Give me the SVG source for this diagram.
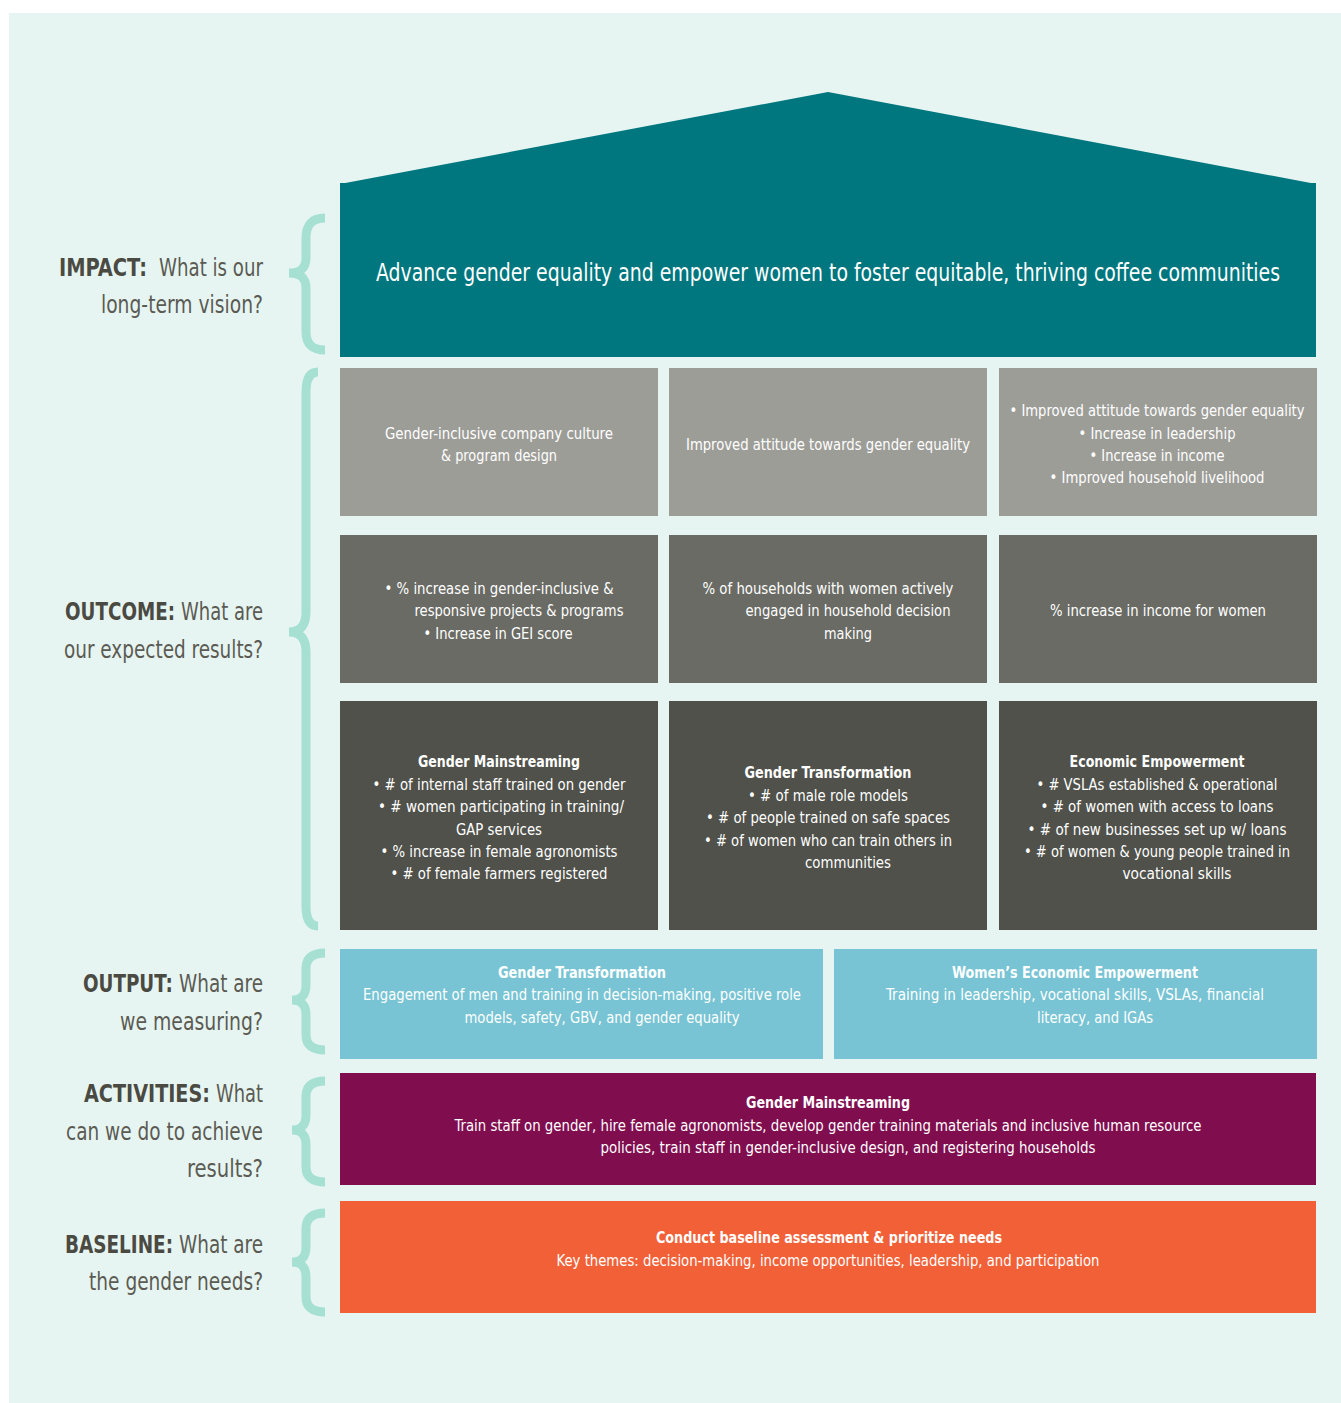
<svg xmlns="http://www.w3.org/2000/svg" width="1341" height="1403" viewBox="0 0 1341 1403">
<style>
.t{font-family:"DejaVu Sans Condensed","Liberation Sans",sans-serif;font-stretch:condensed;fill:#fff;font-size:16.5px;text-anchor:middle}
.b{font-weight:bold}
.lab{font-family:"DejaVu Sans Condensed","Liberation Sans",sans-serif;font-stretch:condensed;font-size:25px;fill:#5b5b53;text-anchor:end}
.k{font-family:"DejaVu Sans Condensed","Liberation Sans",sans-serif;font-stretch:condensed;font-size:25px;font-weight:bold;fill:#4a4a42;text-anchor:start}
.brace{fill:none;stroke:#a6e0d3;stroke-width:9}
</style>
<rect x="0" y="0" width="1341" height="1403" fill="#ffffff"/>
<rect x="9" y="13" width="1332" height="1390" fill="#e7f5f2"/>

<g id="braces">
<path class="brace" d="M325 218 Q306 218 306 238 L306 258 Q306 273 289 273 Q306 273 306 288 L306 332 Q306 350 325 350"/>
<path class="brace" d="M318 372 Q306 372 306 392 L306 612 Q306 632 289 632 Q306 632 306 652 L306 906 Q306 926 318 926"/>
<path class="brace" d="M325 953 Q306 953 306 968 L306 985 Q306 1000 292 1000 Q306 1000 306 1015 L306 1035 Q306 1050 325 1050"/>
<path class="brace" d="M325 1081 Q306 1081 306 1096 L306 1115 Q306 1130 292 1130 Q306 1130 306 1145 L306 1167 Q306 1182 325 1182"/>
<path class="brace" d="M325 1213 Q306 1213 306 1228 L306 1247 Q306 1262 292 1262 Q306 1262 306 1277 L306 1297 Q306 1312 325 1312"/>
</g>

<g id="labels" transform="translate(263 0) scale(0.84 1) translate(-263 0)">
<text class="k" x="20.1" y="276" textLength="104.8" lengthAdjust="spacingAndGlyphs">IMPACT:</text>
<text class="lab" x="263" y="276" textLength="123.8" lengthAdjust="spacingAndGlyphs">What is our</text>
<text class="lab" x="263" y="313" textLength="192.9" lengthAdjust="spacingAndGlyphs">long-term vision?</text>
<text class="k" x="27.3" y="620" textLength="131" lengthAdjust="spacingAndGlyphs">OUTCOME:</text>
<text class="lab" x="263" y="620" textLength="97.6" lengthAdjust="spacingAndGlyphs">What are</text>
<text class="lab" x="263" y="658" textLength="236.9" lengthAdjust="spacingAndGlyphs">our expected results?</text>
<text class="k" x="48.7" y="992" textLength="107.1" lengthAdjust="spacingAndGlyphs">OUTPUT:</text>
<text class="lab" x="263" y="992" textLength="100" lengthAdjust="spacingAndGlyphs">What are</text>
<text class="lab" x="263" y="1030" textLength="170.2" lengthAdjust="spacingAndGlyphs">we measuring?</text>
<text class="k" x="49.9" y="1102" textLength="150" lengthAdjust="spacingAndGlyphs">ACTIVITIES:</text>
<text class="lab" x="263" y="1102" textLength="56" lengthAdjust="spacingAndGlyphs">What</text>
<text class="lab" x="263" y="1140" textLength="234.5" lengthAdjust="spacingAndGlyphs">can we do to achieve</text>
<text class="lab" x="263" y="1177" textLength="90.5" lengthAdjust="spacingAndGlyphs">results?</text>
<text class="k" x="27.3" y="1253" textLength="128.6" lengthAdjust="spacingAndGlyphs">BASELINE:</text>
<text class="lab" x="263" y="1253" textLength="100" lengthAdjust="spacingAndGlyphs">What are</text>
<text class="lab" x="263" y="1290" textLength="207.1" lengthAdjust="spacingAndGlyphs">the gender needs?</text>
</g>

<g id="impact">
<polygon points="340,184 828,92 1316,184" fill="#00767e"/>
<rect x="340" y="183" width="976" height="174" fill="#00767e"/>
<text class="t" transform="translate(828 281) scale(0.87 1)" x="0" y="0" style="font-size:24px" textLength="1039" lengthAdjust="spacingAndGlyphs">Advance gender equality and empower women to foster equitable, thriving coffee communities</text>
</g>

<g id="outcome-r1c1">
<rect x="340" y="368" width="318" height="148" fill="#9d9d98"/>
<text class="t" x="499" y="439" textLength="228" lengthAdjust="spacingAndGlyphs">Gender-inclusive company culture</text>
<text class="t" x="499" y="461" textLength="116" lengthAdjust="spacingAndGlyphs">&amp; program design</text>
</g>
<g id="outcome-r1c2">
<rect x="669" y="368" width="318" height="148" fill="#9d9d98"/>
<text class="t" x="828" y="450" textLength="284" lengthAdjust="spacingAndGlyphs">Improved attitude towards gender equality</text>
</g>
<g id="outcome-r1c3">
<rect x="999" y="368" width="318" height="148" fill="#9d9d98"/>
<text class="t" x="1157" y="416" textLength="295" lengthAdjust="spacingAndGlyphs">• Improved attitude towards gender equality</text>
<text class="t" x="1157" y="439" textLength="157" lengthAdjust="spacingAndGlyphs">• Increase in leadership</text>
<text class="t" x="1157" y="461" textLength="135" lengthAdjust="spacingAndGlyphs">• Increase in income</text>
<text class="t" x="1157" y="483" textLength="215" lengthAdjust="spacingAndGlyphs">• Improved household livelihood</text>
</g>

<g id="outcome-r2c1">
<rect x="340" y="535" width="318" height="148" fill="#6a6b64"/>
<text class="t" x="499" y="594" textLength="229" lengthAdjust="spacingAndGlyphs">• % increase in gender-inclusive &amp;</text>
<text class="t" x="519" y="616" textLength="209" lengthAdjust="spacingAndGlyphs">responsive projects &amp; programs</text>
<text class="t" x="498" y="639" textLength="149" lengthAdjust="spacingAndGlyphs">• Increase in GEI score</text>
</g>
<g id="outcome-r2c2">
<rect x="669" y="535" width="318" height="148" fill="#6a6b64"/>
<text class="t" x="828" y="594" textLength="251" lengthAdjust="spacingAndGlyphs">% of households with women actively</text>
<text class="t" x="848" y="616" textLength="205" lengthAdjust="spacingAndGlyphs">engaged in household decision</text>
<text class="t" x="848" y="639" textLength="48" lengthAdjust="spacingAndGlyphs">making</text>
</g>
<g id="outcome-r2c3">
<rect x="999" y="535" width="318" height="148" fill="#6a6b64"/>
<text class="t" x="1158" y="616" textLength="216" lengthAdjust="spacingAndGlyphs">% increase in income for women</text>
</g>

<g id="outcome-r3c1">
<rect x="340" y="701" width="318" height="229" fill="#50514a"/>
<text class="t b" x="499" y="767" textLength="162" lengthAdjust="spacingAndGlyphs">Gender Mainstreaming</text>
<text class="t" x="499" y="790" textLength="253" lengthAdjust="spacingAndGlyphs">• # of internal staff trained on gender</text>
<text class="t" x="501" y="812" textLength="246" lengthAdjust="spacingAndGlyphs">• # women participating in training/</text>
<text class="t" x="499" y="835" textLength="86" lengthAdjust="spacingAndGlyphs">GAP services</text>
<text class="t" x="499" y="857" textLength="237" lengthAdjust="spacingAndGlyphs">• % increase in female agronomists</text>
<text class="t" x="499" y="879" textLength="217" lengthAdjust="spacingAndGlyphs">• # of female farmers registered</text>
</g>
<g id="outcome-r3c2">
<rect x="669" y="701" width="318" height="229" fill="#50514a"/>
<text class="t b" x="828" y="778" textLength="167" lengthAdjust="spacingAndGlyphs">Gender Transformation</text>
<text class="t" x="828" y="801" textLength="160" lengthAdjust="spacingAndGlyphs">• # of male role models</text>
<text class="t" x="828" y="823" textLength="244" lengthAdjust="spacingAndGlyphs">• # of people trained on safe spaces</text>
<text class="t" x="828" y="846" textLength="248" lengthAdjust="spacingAndGlyphs">• # of women who can train others in</text>
<text class="t" x="848" y="868" textLength="86" lengthAdjust="spacingAndGlyphs">communities</text>
</g>
<g id="outcome-r3c3">
<rect x="999" y="701" width="318" height="229" fill="#50514a"/>
<text class="t b" x="1157" y="767" textLength="175" lengthAdjust="spacingAndGlyphs">Economic Empowerment</text>
<text class="t" x="1157" y="790" textLength="241" lengthAdjust="spacingAndGlyphs">• # VSLAs established &amp; operational</text>
<text class="t" x="1157" y="812" textLength="233" lengthAdjust="spacingAndGlyphs">• # of women with access to loans</text>
<text class="t" x="1157" y="835" textLength="259" lengthAdjust="spacingAndGlyphs">• # of new businesses set up w/ loans</text>
<text class="t" x="1157" y="857" textLength="266" lengthAdjust="spacingAndGlyphs">• # of women &amp; young people trained in</text>
<text class="t" x="1177" y="879" textLength="109" lengthAdjust="spacingAndGlyphs">vocational skills</text>
</g>

<g id="output-1">
<rect x="340" y="949" width="483" height="110" fill="#78c4d4"/>
<text class="t b" x="582" y="978" textLength="168" lengthAdjust="spacingAndGlyphs">Gender Transformation</text>
<text class="t" x="582" y="1000" textLength="438" lengthAdjust="spacingAndGlyphs">Engagement of men and training in decision-making, positive role</text>
<text class="t" x="602" y="1023" textLength="275" lengthAdjust="spacingAndGlyphs">models, safety, GBV, and gender equality</text>
</g>
<g id="output-2">
<rect x="834" y="949" width="483" height="110" fill="#78c4d4"/>
<text class="t b" x="1075" y="978" textLength="246" lengthAdjust="spacingAndGlyphs">Women’s Economic Empowerment</text>
<text class="t" x="1075" y="1000" textLength="378" lengthAdjust="spacingAndGlyphs">Training in leadership, vocational skills, VSLAs, financial</text>
<text class="t" x="1095" y="1023" textLength="116" lengthAdjust="spacingAndGlyphs">literacy, and IGAs</text>
</g>

<g id="activities">
<rect x="340" y="1073" width="976" height="112" fill="#800e4f"/>
<text class="t b" x="828" y="1108" textLength="164" lengthAdjust="spacingAndGlyphs">Gender Mainstreaming</text>
<text class="t" x="828" y="1131" textLength="747" lengthAdjust="spacingAndGlyphs">Train staff on gender, hire female agronomists, develop gender training materials and inclusive human resource</text>
<text class="t" x="848" y="1153" textLength="495" lengthAdjust="spacingAndGlyphs">policies, train staff in gender-inclusive design, and registering households</text>
</g>

<g id="baseline">
<rect x="340" y="1201" width="976" height="112" fill="#f26038"/>
<text class="t b" x="829" y="1243" textLength="346" lengthAdjust="spacingAndGlyphs">Conduct baseline assessment &amp; prioritize needs</text>
<text class="t" x="828" y="1266" textLength="543" lengthAdjust="spacingAndGlyphs">Key themes: decision-making, income opportunities, leadership, and participation</text>
</g>
</svg>
